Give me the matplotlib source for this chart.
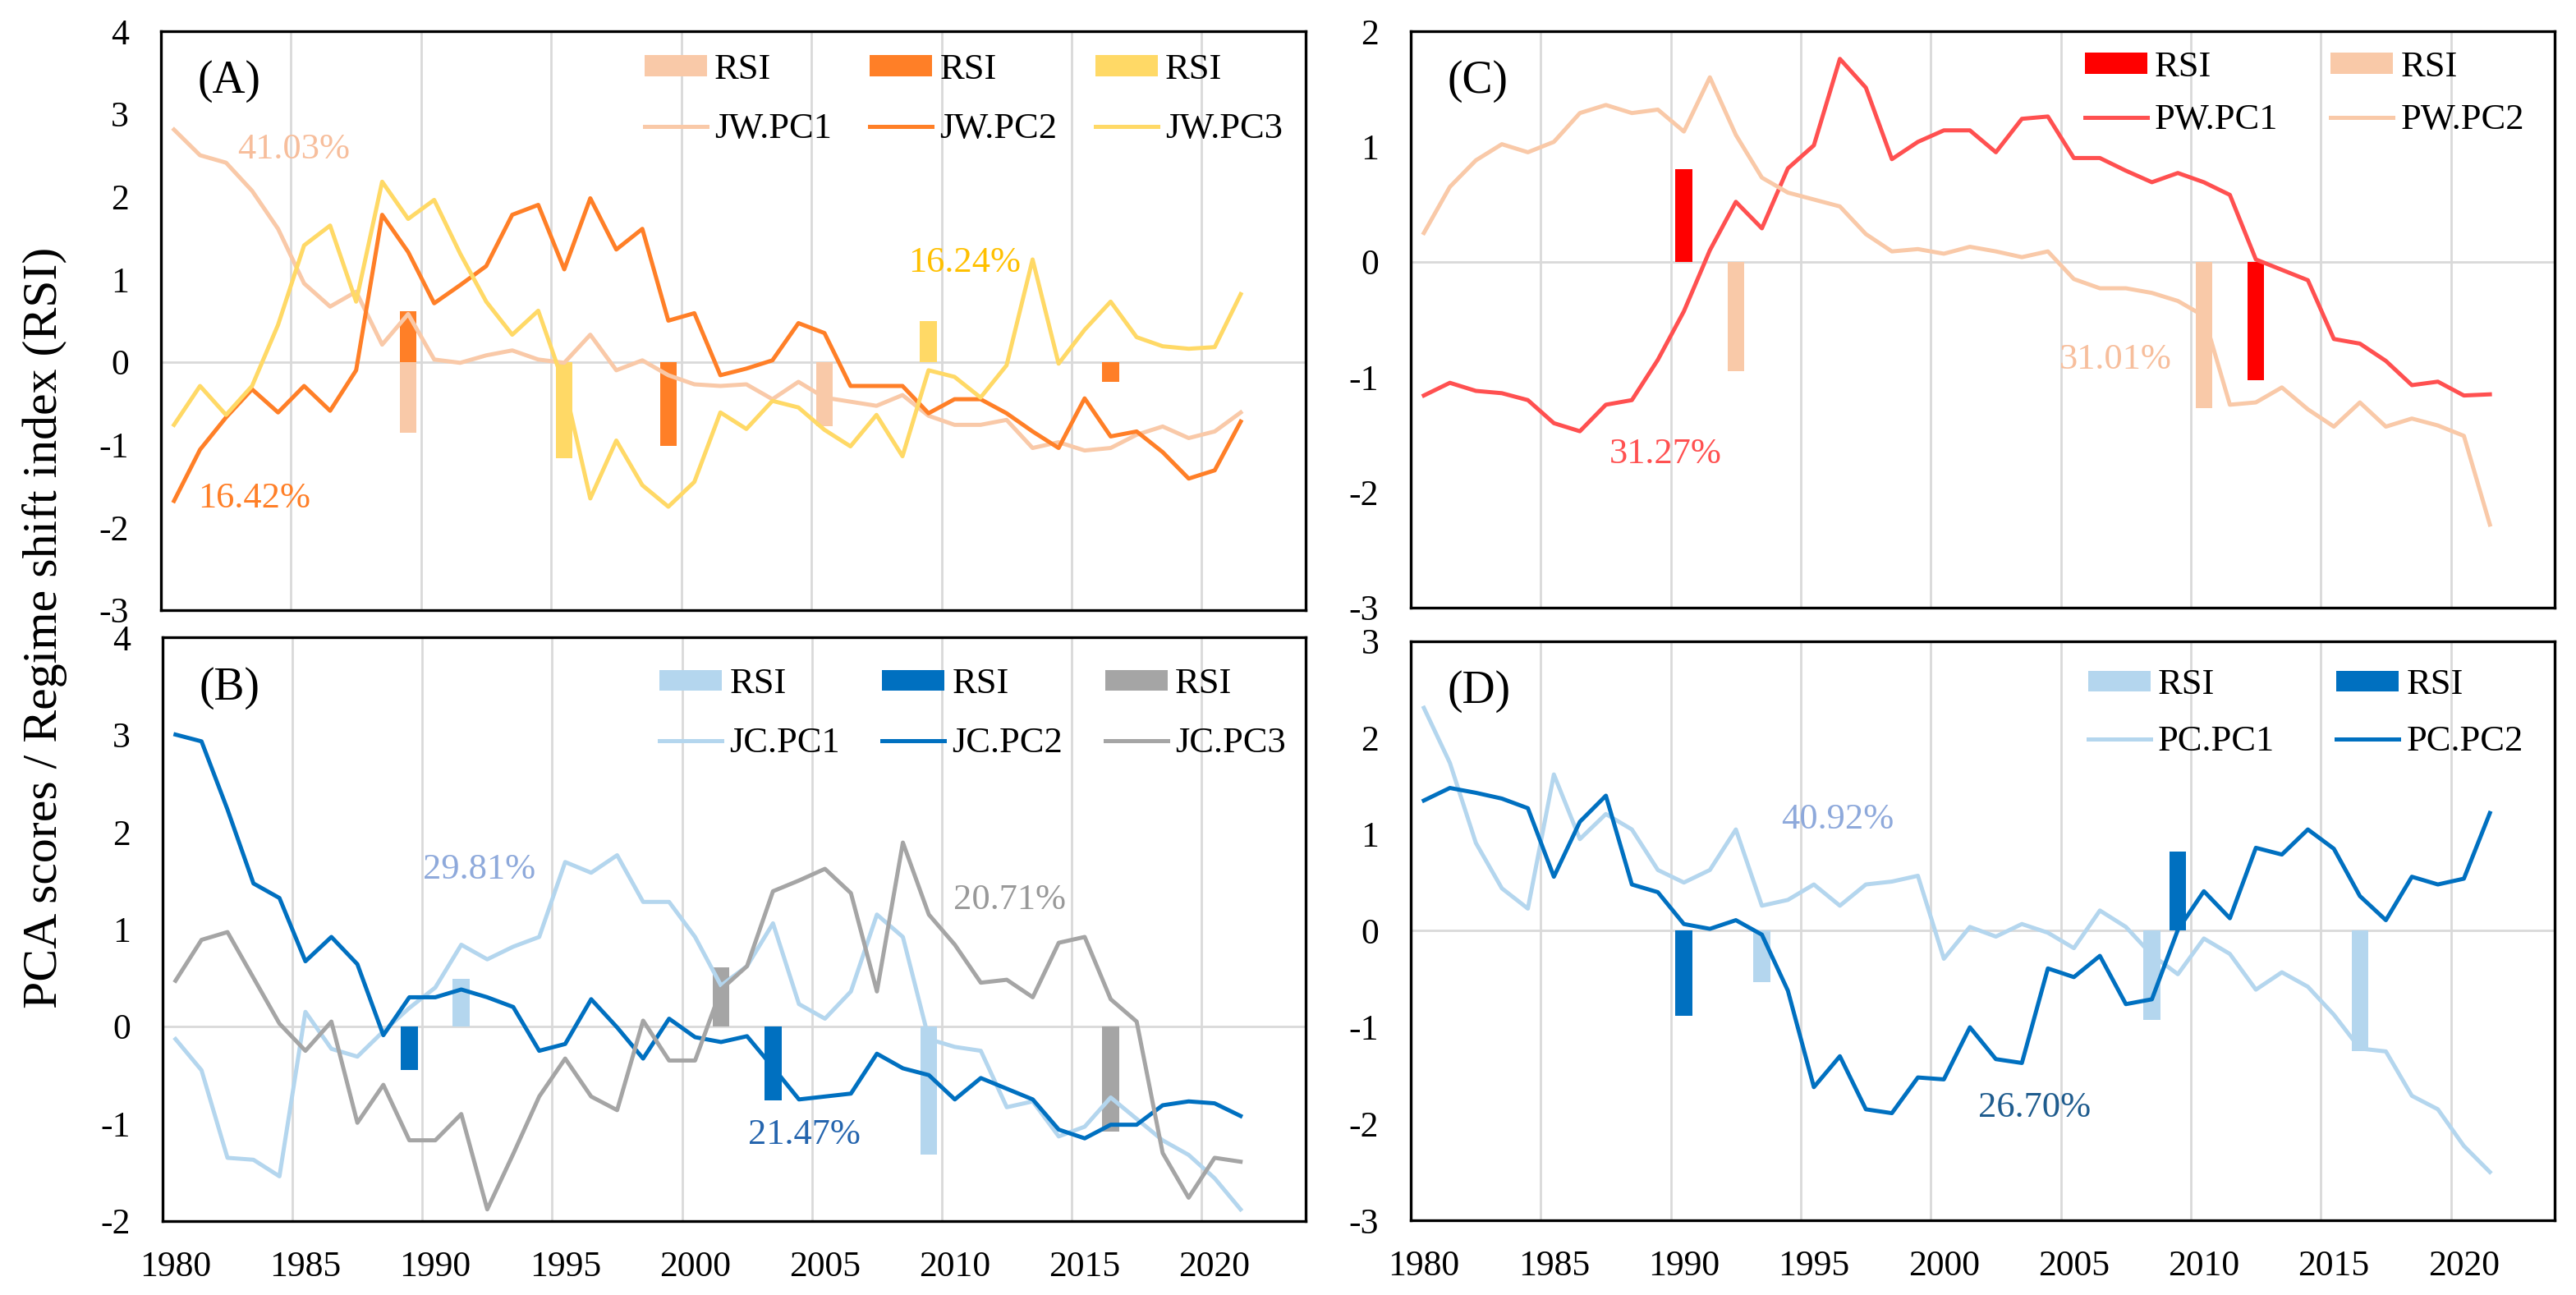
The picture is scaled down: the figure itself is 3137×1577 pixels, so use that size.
"""Regime shift figure: PCA scores and RSI bars for four groups (A-D)."""
import numpy as np
import matplotlib
matplotlib.use("Agg")
import matplotlib.pyplot as plt

plt.rcParams['font.family'] = ['Liberation Serif', 'DejaVu Serif']
plt.rcParams['axes.unicode_minus'] = False

### data
years = np.arange(1980, 2022)

# (A) JW
jw_pc1 = [2.81, 2.50, 2.41, 2.07, 1.61, 0.95, 0.67, 0.85, 0.21, 0.58,
          0.03, -0.01, 0.08, 0.14, 0.03, -0.01, 0.33, -0.10, 0.02, -0.16,
          -0.27, -0.29, -0.27, -0.45, -0.24, -0.43, -0.48, -0.53, -0.40, -0.65,
          -0.76, -0.76, -0.70, -1.04, -0.97, -1.07, -1.04, -0.88, -0.78, -0.92,
          -0.84, -0.61]
jw_pc2 = [-1.68, -1.06, -0.67, -0.33, -0.61, -0.29, -0.59, -0.10, 1.78, 1.33,
          0.71, 0.93, 1.16, 1.78, 1.90, 1.12, 1.98, 1.36, 1.61, 0.50,
          0.59, -0.16, -0.08, 0.02, 0.47, 0.35, -0.29, -0.29, -0.29, -0.62,
          -0.45, -0.45, -0.62, -0.84, -1.04, -0.44, -0.90, -0.84, -1.09, -1.41,
          -1.31, -0.72]
jw_pc3 = [-0.76, -0.29, -0.64, -0.29, 0.45, 1.41, 1.65, 0.73, 2.18, 1.73,
          1.96, 1.31, 0.73, 0.33, 0.62, -0.28, -1.65, -0.95, -1.49, -1.75,
          -1.45, -0.61, -0.81, -0.47, -0.55, -0.82, -1.02, -0.64, -1.14, -0.10,
          -0.18, -0.43, -0.04, 1.24, -0.02, 0.39, 0.73, 0.30, 0.19, 0.16,
          0.18, 0.82]
jw_rsi1_years = [1989, 2005]
jw_rsi1 = [-0.86, -0.78]
jw_rsi2_years = [1989, 1999, 2016]
jw_rsi2 = [0.61, -1.01, -0.24]
jw_rsi3_years = [1995, 2009]
jw_rsi3 = [-1.16, 0.49]

# (B) JC
jc_pc1 = [-0.13, -0.45, -1.35, -1.37, -1.54, 0.15, -0.23, -0.31, -0.05, 0.19,
          0.40, 0.84, 0.69, 0.82, 0.92, 1.69, 1.58, 1.76, 1.28, 1.28,
          0.92, 0.42, 0.62, 1.06, 0.23, 0.08, 0.36, 1.15, 0.92, -0.13,
          -0.21, -0.25, -0.83, -0.77, -1.13, -1.03, -0.73, -0.95, -1.17, -1.32,
          -1.56, -1.88]
jc_pc2 = [3.00, 2.93, 2.23, 1.47, 1.32, 0.67, 0.92, 0.64, -0.09, 0.30,
          0.30, 0.38, 0.30, 0.20, -0.25, -0.18, 0.28, -0.01, -0.33, 0.08,
          -0.11, -0.16, -0.10, -0.42, -0.75, -0.72, -0.69, -0.28, -0.43, -0.50,
          -0.75, -0.53, -0.64, -0.75, -1.06, -1.15, -1.01, -1.01, -0.81, -0.77,
          -0.79, -0.92]
jc_pc3 = [0.47, 0.89, 0.97, 0.50, 0.03, -0.25, 0.05, -0.99, -0.60, -1.17,
          -1.17, -0.90, -1.88, -1.31, -0.72, -0.33, -0.72, -0.86, 0.06, -0.35,
          -0.35, 0.38, 0.62, 1.39, 1.50, 1.62, 1.37, 0.36, 1.89, 1.15,
          0.84, 0.45, 0.48, 0.30, 0.86, 0.92, 0.28, 0.05, -1.30, -1.76,
          -1.35, -1.39]
jc_rsi1_years = [1991, 2009]
jc_rsi1 = [0.49, -1.32]
jc_rsi2_years = [1989, 2003]
jc_rsi2 = [-0.45, -0.76]
jc_rsi3_years = [2001, 2016]
jc_rsi3 = [0.61, -1.08]

# (C) PW
pw_pc1 = [-1.16, -1.05, -1.12, -1.14, -1.20, -1.40, -1.47, -1.24, -1.20, -0.85,
          -0.43, 0.10, 0.52, 0.29, 0.81, 1.01, 1.76, 1.51, 0.89, 1.04,
          1.14, 1.14, 0.95, 1.24, 1.26, 0.90, 0.90, 0.79, 0.69, 0.77,
          0.69, 0.58, 0.02, -0.07, -0.16, -0.67, -0.71, -0.86, -1.07, -1.04,
          -1.16, -1.15]
pw_pc2 = [0.25, 0.65, 0.88, 1.02, 0.95, 1.04, 1.29, 1.36, 1.29, 1.32,
          1.13, 1.60, 1.10, 0.73, 0.60, 0.54, 0.48, 0.24, 0.09, 0.11,
          0.07, 0.13, 0.09, 0.04, 0.09, -0.15, -0.23, -0.23, -0.27, -0.34,
          -0.47, -1.24, -1.22, -1.09, -1.28, -1.43, -1.22, -1.43, -1.36, -1.42,
          -1.51, -2.28]
pw_rsi1_years = [1990, 2012]
pw_rsi1 = [0.80, -1.03]
pw_rsi2_years = [1992, 2010]
pw_rsi2 = [-0.95, -1.27]

# (D) PC
pc_pc1 = [2.31, 1.74, 0.91, 0.44, 0.23, 1.62, 0.95, 1.21, 1.05, 0.63,
          0.50, 0.63, 1.05, 0.26, 0.32, 0.48, 0.26, 0.48, 0.51, 0.57,
          -0.29, 0.04, -0.06, 0.07, -0.02, -0.18, 0.21, 0.04, -0.25, -0.45,
          -0.08, -0.24, -0.61, -0.43, -0.58, -0.87, -1.22, -1.25, -1.71, -1.85,
          -2.23, -2.50]
pc_pc2 = [1.35, 1.48, 1.43, 1.37, 1.27, 0.56, 1.13, 1.40, 0.48, 0.40,
          0.07, 0.02, 0.11, -0.04, -0.62, -1.62, -1.30, -1.85, -1.89, -1.52,
          -1.54, -1.00, -1.33, -1.37, -0.39, -0.48, -0.26, -0.76, -0.71, 0.01,
          0.41, 0.13, 0.86, 0.79, 1.05, 0.85, 0.36, 0.11, 0.56, 0.48,
          0.54, 1.22]
pc_rsi1_years = [1993, 2008, 2016]
pc_rsi1 = [-0.53, -0.92, -1.25]
pc_rsi2_years = [1990, 2009]
pc_rsi2 = [-0.88, 0.82]

### styles
PEACH = '#F9C9A8'
ORANGE = '#FF7F27'
YELLOW = '#FFD966'
RED_LINE = '#FF5050'
RED_BAR = '#FF0000'
LBLUE = '#B4D6EE'
BLUE = '#0070C0'
GRAY = '#A5A5A5'
GRID = '#D9D9D9'

FS = 32
LW = 3.6
BAR_W = 0.65


def setup_axes(ax, ylim, show_x):
    ax.set_xlim(1979.5, 2023.5)
    ax.set_ylim(*ylim)
    ax.set_yticks(range(ylim[0], ylim[1] + 1))
    ax.set_xticks(range(1980, 2021, 5))
    for g in np.arange(1984.5, 2020, 5):
        ax.axvline(g, color=GRID, lw=2, zorder=0)
    ax.axhline(0, color=GRID, lw=2, zorder=0)
    for s in ax.spines.values():
        s.set_linewidth(2.4)
        s.set_color('black')
    ax.tick_params(axis='both', length=0, labelsize=31.5)
    ax.tick_params(axis='y', pad=28)
    ax.tick_params(axis='x', pad=26)
    if not show_x:
        ax.set_xticklabels([])


def draw(ax, rsi, lines):
    handles, labels = [], []
    for (yrs, vals, c), (pc, lc, name) in zip(rsi, lines):
        b = ax.bar(yrs, vals, width=BAR_W, color=c, zorder=2)
        l, = ax.plot(years, pc, color=lc, lw=LW, zorder=3)
        handles += [b, l]
        labels += ['RSI', name]
    return handles, labels


def add_legend(ax, handles, labels, ncol, anchor, colsp, labsp):
    ax.legend(handles, labels, ncol=ncol, loc='upper left', bbox_to_anchor=anchor,
              frameon=False, fontsize=FS, handlelength=1.71, handletextpad=0.2,
              columnspacing=colsp, labelspacing=labsp, borderpad=0,
              borderaxespad=0, handleheight=0.5)


fig = plt.figure(figsize=(31.37, 15.77), dpi=100)
axA = fig.add_axes([0.0625, 0.5289, 0.4444, 0.4470])
axB = fig.add_axes([0.0631, 0.0571, 0.4437, 0.4508])
axC = fig.add_axes([0.5477, 0.5308, 0.4441, 0.4451])
axD = fig.add_axes([0.5477, 0.0577, 0.4441, 0.4471])

# (A)
setup_axes(axA, (-3, 4), False)
h, lab = draw(axA,
              [(jw_rsi1_years, jw_rsi1, PEACH), (jw_rsi2_years, jw_rsi2, ORANGE),
               (jw_rsi3_years, jw_rsi3, YELLOW)],
              [(jw_pc1, PEACH, 'JW.PC1'), (jw_pc2, ORANGE, 'JW.PC2'),
               (jw_pc3, YELLOW, 'JW.PC3')])
add_legend(axA, h, lab, 3, (0.4225, 0.962), 1.05, 0.73)
axA.text(1984.6, 2.57, '41.03%', color='#F7BE9C', fontsize=FS, ha='center', va='center')
axA.text(1983.1, -1.65, '16.42%', color=ORANGE, fontsize=FS, ha='center', va='center')
axA.text(2010.4, 1.20, '16.24%', color='#FFC000', fontsize=FS, ha='center', va='center')

# (B)
setup_axes(axB, (-2, 4), True)
h, lab = draw(axB,
              [(jc_rsi1_years, jc_rsi1, LBLUE), (jc_rsi2_years, jc_rsi2, BLUE),
               (jc_rsi3_years, jc_rsi3, GRAY)],
              [(jc_pc1, LBLUE, 'JC.PC1'), (jc_pc2, BLUE, 'JC.PC2'),
               (jc_pc3, GRAY, 'JC.PC3')])
add_legend(axB, h, lab, 3, (0.435, 0.948), 1.16, 0.73)
axB.text(1991.7, 1.61, '29.81%', color='#8EA9DB', fontsize=FS, ha='center', va='center')
axB.text(2004.2, -1.11, '21.47%', color='#2565AE', fontsize=FS, ha='center', va='center')
axB.text(2012.1, 1.30, '20.71%', color='#999999', fontsize=FS, ha='center', va='center')

# (C)
setup_axes(axC, (-3, 2), False)
h, lab = draw(axC,
              [(pw_rsi1_years, pw_rsi1, RED_BAR), (pw_rsi2_years, pw_rsi2, PEACH)],
              [(pw_pc1, RED_LINE, 'PW.PC1'), (pw_pc2, PEACH, 'PW.PC2')])
add_legend(axC, h, lab, 2, (0.589, 0.966), 1.45, 0.55)
axC.text(1989.3, -1.67, '31.27%', color=RED_LINE, fontsize=FS, ha='center', va='center')
axC.text(2006.6, -0.85, '31.01%', color='#F7BE9C', fontsize=FS, ha='center', va='center')

# (D)
setup_axes(axD, (-3, 3), True)
h, lab = draw(axD,
              [(pc_rsi1_years, pc_rsi1, LBLUE), (pc_rsi2_years, pc_rsi2, BLUE)],
              [(pc_pc1, LBLUE, 'PC.PC1'), (pc_pc2, BLUE, 'PC.PC2')])
add_legend(axD, h, lab, 2, (0.592, 0.953), 1.7, 0.66)
axD.text(1995.9, 1.15, '40.92%', color='#8EA9DB', fontsize=FS, ha='center', va='center')
axD.text(2003.5, -1.83, '26.70%', color='#1F5C8E', fontsize=FS, ha='center', va='center')

for ax, tag in zip([axA, axB, axC, axD], ['(A)', '(B)', '(C)', '(D)']):
    ax.text(0.032, 0.913, tag, transform=ax.transAxes, fontsize=40,
            ha='left', va='center')

fig.text(0.0175, 0.515, 'PCA scores / Regime shift index (RSI)', rotation=90,
         fontsize=43, ha='center', va='center')

fig.savefig('out.png', dpi=100)
